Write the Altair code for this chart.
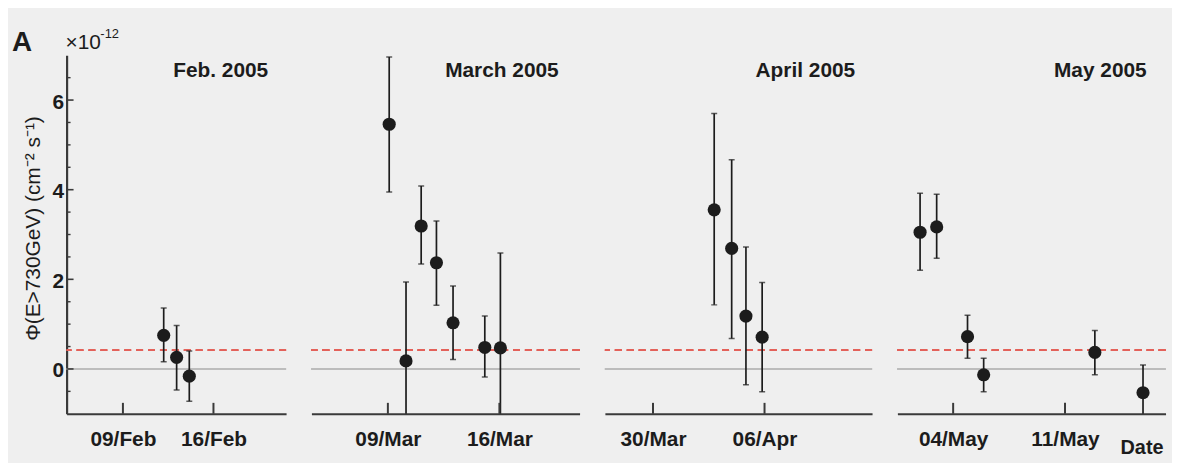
import altair as alt
import pandas as pd

FONT = "Liberation Sans"
INK = "#1c1c1c"
AXIS_C = "#3a3a3a"

# ---------------- data ----------------
panel_titles = ["Feb. 2005", "March 2005", "April 2005", "May 2005"]

feb_dates = ["2005-02-12T03:40", "2005-02-13T03:40", "2005-02-14T03:10"]
feb_flux = [0.75, 0.26, -0.16]
feb_lo = [0.16, -0.47, -0.72]
feb_hi = [1.36, 0.97, 0.40]

mar_dates = ["2005-03-09T02:00", "2005-03-10T03:20", "2005-03-11T02:10",
             "2005-03-12T01:10", "2005-03-13T02:10", "2005-03-15T02:00",
             "2005-03-16T01:30"]
mar_flux = [5.46, 0.18, 3.19, 2.37, 1.03, 0.48, 0.47]
mar_lo = [3.95, -1.58, 2.34, 1.42, 0.21, -0.18, -1.65]
mar_hi = [6.96, 1.94, 4.08, 3.30, 1.85, 1.18, 2.59]

apr_dates = ["2005-04-02T20:10", "2005-04-03T22:30", "2005-04-04T20:00",
             "2005-04-05T20:25"]
apr_flux = [3.55, 2.69, 1.18, 0.71]
apr_lo = [1.43, 0.68, -0.35, -0.51]
apr_hi = [5.70, 4.67, 2.72, 1.93]

may_dates = ["2005-05-01T22:20", "2005-05-02T23:15", "2005-05-04T21:35",
             "2005-05-05T21:50", "2005-05-12T20:50", "2005-05-15T21:10"]
may_flux = [3.05, 3.17, 0.72, -0.13, 0.37, -0.53]
may_lo = [2.20, 2.47, 0.24, -0.51, -0.13, -1.15]
may_hi = [3.92, 3.90, 1.20, 0.24, 0.86, 0.09]

feb_ticks = ["2005-02-09T00:00", "2005-02-16T00:00"]
mar_ticks = ["2005-03-09T00:00", "2005-03-16T00:00"]
apr_ticks = ["2005-03-30T00:00", "2005-04-06T00:00"]
may_ticks = ["2005-05-04T00:00", "2005-05-11T00:00"]

feb_range = ["2005-02-04T15:30", "2005-02-21T14:45"]
mar_range = ["2005-03-04T04:50", "2005-03-21T00:45"]
apr_range = ["2005-03-26T23:30", "2005-04-12T18:00"]
may_range = ["2005-04-30T12:15", "2005-05-17T07:00"]

y_range = [-1, 7]
y_major = [0, 2, 4, 6]
y_minor = [-0.5, 0.5, 1, 1.5, 2.5, 3, 3.5, 4.5, 5, 5.5, 6.5]
threshold = 0.42
y_title = "Φ(E>730GeV) (cm⁻² s⁻¹)"

# ---------------- layout ----------------
H = 361
widths = [221, 270, 269, 270]
title_x = [203, 249, 252, 251]


def dt(s):
    t = pd.Timestamp(s)
    return alt.DateTime(year=t.year, month=t.month, date=t.day,
                        hours=t.hour, minutes=t.minute)


def panel(k, dates, flux, lo, hi, ticks, rng, first=False, last=False):
    W = widths[k]
    df = pd.DataFrame({"date": dates, "flux": flux, "lo": lo, "hi": hi})
    tdf = pd.DataFrame({"date": ticks})
    xscale = alt.Scale(domain=[dt(rng[0]), dt(rng[1])], nice=False)
    yscale = alt.Scale(domain=y_range, nice=False, zero=False)
    xaxis = alt.Axis(values=[dt(t) for t in ticks], format="%d/%b", title=None,
                     ticks=False, tickSize=0, grid=False, labelFlush=False,
                     labelFont=FONT, labelFontSize=21, labelFontWeight="bold",
                     labelColor=INK, labelPadding=15,
                     domainColor=AXIS_C, domainWidth=2.2)
    if first:
        yaxis = alt.Axis(values=y_major, format="d", title=y_title, ticks=False,
                         tickSize=0, grid=False, labelFont=FONT, labelFontSize=21,
                         labelFontWeight="bold", labelColor=INK, labelPadding=3,
                         labelOffset=2,
                         titleFont=FONT, titleFontSize=21, titleFontWeight="normal",
                         titleColor=INK, titlePadding=9, titleY=174,
                         domainColor=AXIS_C, domainWidth=2.2)
    else:
        yaxis = None

    X = alt.X("date:T", scale=xscale, axis=xaxis)

    def Y(f):
        return alt.Y(f, type="quantitative", scale=yscale, axis=yaxis)

    zero = alt.Chart(df).mark_rule(color="#bdbdbd", strokeWidth=1.6).encode(
        y=alt.Y(datum=0, type="quantitative", scale=yscale, axis=yaxis))
    thr = alt.Chart(df).mark_rule(color="#e3615a", strokeWidth=1.6,
                                  strokeDash=[7, 5]).encode(
        y=alt.Y(datum=threshold, type="quantitative", scale=yscale, axis=yaxis))
    bars = alt.Chart(df).mark_rule(color=INK, strokeWidth=1.7, clip=True).encode(
        x=X, y=Y("lo"), y2="hi")
    cap_hi = alt.Chart(df).mark_tick(color=INK, orient="horizontal", size=6,
                                     thickness=1.5, clip=True).encode(x=X, y=Y("hi"))
    cap_lo = alt.Chart(df).mark_tick(color=INK, orient="horizontal", size=6,
                                     thickness=1.5, clip=True).encode(x=X, y=Y("lo"))
    pts = alt.Chart(df).mark_circle(color=INK, size=175, opacity=1).encode(
        x=X, y=Y("flux"))
    xt = alt.Chart(tdf).mark_rule(color=AXIS_C, strokeWidth=2).encode(
        x=X, y=alt.value(H), y2=alt.value(H - 11))
    ttl = alt.Chart(pd.DataFrame({"t": [panel_titles[k]]})).mark_text(
        align="right", baseline="alphabetic", font=FONT, fontSize=21,
        fontWeight="bold", color=INK).encode(
        x=alt.value(title_x[k]), y=alt.value(22), text="t:N")
    layers = [zero, thr, bars, cap_hi, cap_lo, pts, xt, ttl]

    if first:
        ymaj = alt.Chart(pd.DataFrame({"v": y_major})).mark_rule(
            color=AXIS_C, strokeWidth=1.6).encode(
            y=Y("v"), x=alt.value(0), x2=alt.value(7))
        ymin = alt.Chart(pd.DataFrame({"v": y_minor})).mark_rule(
            color=AXIS_C, strokeWidth=1.4).encode(
            y=Y("v"), x=alt.value(0), x2=alt.value(4))
        lab_a = alt.Chart(pd.DataFrame({"t": ["A"]})).mark_text(
            align="left", baseline="alphabetic", font=FONT, fontSize=28,
            fontWeight="bold", color=INK).encode(
            x=alt.value(-55), y=alt.value(-4), text="t:N")
        lab_x = alt.Chart(pd.DataFrame({"t": ["×10"]})).mark_text(
            align="left", baseline="alphabetic", font=FONT, fontSize=21,
            color=INK).encode(x=alt.value(-1), y=alt.value(-6), text="t:N")
        lab_e = alt.Chart(pd.DataFrame({"t": ["-12"]})).mark_text(
            align="left", baseline="alphabetic", font=FONT, fontSize=13,
            color=INK).encode(x=alt.value(34), y=alt.value(-17), text="t:N")
        layers += [ymaj, ymin, lab_a, lab_x, lab_e]
    if last:
        lab_d = alt.Chart(pd.DataFrame({"t": ["Date"]})).mark_text(
            align="right", baseline="alphabetic", font=FONT, fontSize=20,
            fontWeight="bold", color=INK).encode(
            x=alt.value(268), y=alt.value(H + 40), text="t:N")
        layers.append(lab_d)

    return alt.layer(*layers).properties(width=W, height=H)


p1 = panel(0, feb_dates, feb_flux, feb_lo, feb_hi, feb_ticks, feb_range, first=True)
p2 = panel(1, mar_dates, mar_flux, mar_lo, mar_hi, mar_ticks, mar_range)
p3 = panel(2, apr_dates, apr_flux, apr_lo, apr_hi, apr_ticks, apr_range)
p4 = panel(3, may_dates, may_flux, may_lo, may_hi, may_ticks, may_range, last=True)

chart = alt.hconcat(p1, p2, p3, p4, spacing=23.5).properties(
    padding={"left": 4, "top": 19, "right": 5, "bottom": 5}
).configure(background="#efefef").configure_view(stroke=None)

chart.save("out.html", embed_options={"renderer": "svg", "actions": False})
